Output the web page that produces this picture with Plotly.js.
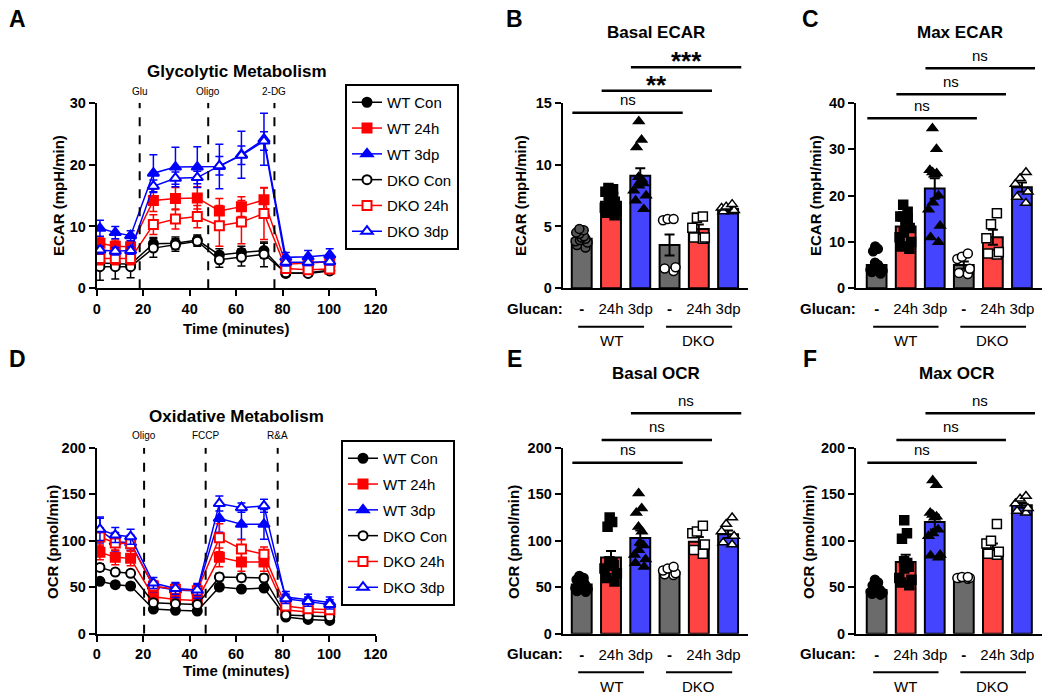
<!DOCTYPE html>
<html>
<head>
<meta charset="utf-8">
<script src="https://cdn.plot.ly/plotly-3.0.1.min.js"></script>
<style>
  body { margin: 0; background: white; }
  #fig { width: 1050px; height: 699px; }
</style>
</head>
<body>
<div id="fig"></div>
<script>
// --- data ---
const groups = ['WT Con', 'WT 24h', 'WT 3dp', 'DKO Con', 'DKO 24h', 'DKO 3dp'];
const minutes = [1.4, 8.0, 14.6, 24.4, 33.9, 43.3, 52.8, 62.3, 72.0, 81.4, 91.0, 100.3];

// panel A, ECAR (mpH/min)
const ecarWtCon = [4.1, 4.0, 3.9, 7.2, 7.3, 7.8, 5.4, 5.8, 6.1, 2.4, 2.5, 2.9];
const ecarWt24 = [7.3, 6.8, 6.7, 14.2, 14.5, 14.6, 12.5, 13.2, 14.3, 3.9, 4.1, 4.3];
const ecarWt3dp = [9.7, 9.0, 8.5, 18.6, 19.6, 19.6, 19.7, 21.6, 24.1, 5.0, 5.1, 5.4];
const ecarDkoCon = [3.5, 3.5, 3.5, 6.5, 7.0, 7.6, 4.6, 5.0, 5.5, 2.5, 2.4, 2.8];
const ecarDko24 = [4.8, 4.8, 4.8, 10.3, 11.2, 11.6, 10.1, 10.7, 12.1, 3.2, 3.0, 3.1];
const ecarDko3dp = [6.2, 6.0, 6.1, 16.5, 17.8, 17.9, 19.8, 21.5, 23.8, 4.2, 4.2, 4.3];
const ecarWtConErr = [0.8, 0.8, 0.8, 1.0, 1.0, 0.8, 1.0, 1.0, 1.2, 0.5, 0.5, 0.5];
const ecarWt24Err = [1.0, 1.0, 1.0, 1.8, 1.8, 1.8, 2.0, 1.6, 1.9, 0.5, 0.5, 0.5];
const ecarWt3dpErr = [1.3, 1.0, 0.8, 3.0, 3.2, 3.3, 3.6, 3.8, 4.2, 0.8, 1.0, 1.0];
const ecarDkoConErr = [2.2, 2.0, 1.8, 1.5, 1.0, 0.8, 1.2, 1.4, 2.0, 0.4, 0.4, 0.4];
const ecarDko24Err = [1.0, 1.0, 1.0, 1.6, 1.6, 1.8, 3.3, 3.5, 4.2, 0.4, 0.4, 0.4];
const ecarDko3dpErr = [0.6, 0.6, 0.6, 1.0, 1.0, 1.0, 1.5, 1.5, 1.5, 0.6, 0.5, 0.5];
const ecarInjTimes = [18.5, 48.0, 76.5];
const ecarInjNames = ['Glu', 'Oligo', '2-DG'];

// panel D, OCR (pmol/min)
const ocrWtCon = [56.3, 52.7, 51.3, 26.5, 25.1, 24.4, 50.2, 48.0, 49.1, 17.9, 15.4, 14.3];
const ocrWt24 = [87.5, 82.1, 81.0, 39.8, 36.9, 35.8, 82.1, 77.1, 77.1, 25.4, 23.3, 22.6];
const ocrWt3dp = [111.5, 98.9, 97.8, 51.0, 47.0, 46.0, 124.0, 117.6, 117.6, 39.5, 36.5, 33.5];
const ocrDkoCon = [71.3, 66.3, 64.9, 33.3, 32.3, 31.5, 60.9, 60.2, 59.9, 20.1, 19.0, 18.3];
const ocrDko24 = [103.9, 97.5, 96.8, 51.3, 47.7, 46.2, 103.2, 91.0, 85.3, 29.7, 26.9, 25.8];
const ocrDko3dp = [112.2, 106.1, 104.3, 54.5, 48.5, 47.0, 140.0, 135.5, 137.5, 37.5, 34.5, 31.5];
const ocrWtConErr = [3, 3, 3, 2, 2, 2, 3, 3, 3, 2, 2, 2];
const ocrWt24Err = [8, 8, 8, 5, 5, 5, 10, 10, 10, 3, 3, 3];
const ocrWt3dpErr = [14, 10, 8, 6, 8, 8, 15, 16, 16, 6, 6, 6];
const ocrDkoConErr = [4, 3, 3, 3, 3, 3, 4, 4, 4, 2, 2, 2];
const ocrDko24Err = [10, 8, 8, 6, 6, 6, 15, 10, 8, 4, 3, 3];
const ocrDko3dpErr = [12, 8, 8, 6, 6, 6, 8, 5, 7, 5, 5, 5];
const ocrInjTimes = [20.4, 46.9, 77.9];
const ocrInjNames = ['Oligo', 'FCCP', 'R&A'];

// bar panels: means, SEM, individual wells (order = groups)
const basalEcarMean = [4.0, 7.0, 9.1, 3.5, 4.8, 6.4];
const basalEcarSem = [0.15, 0.25, 0.6, 0.85, 0.35, 0.1];
const basalEcarPts = [
  [3.3, 3.5, 3.7, 3.8, 3.9, 4.0, 4.1, 4.2, 4.4, 4.5, 4.7, 4.8],
  [5.9, 6.1, 6.3, 6.5, 6.8, 7.0, 7.2, 7.4, 7.5, 7.8, 8.0, 8.1],
  [13.5, 12.0, 11.4, 9.0, 8.8, 8.6, 8.5, 8.3, 7.9, 7.5, 7.1, 6.4],
  [5.6, 5.6, 5.5, 1.7, 1.6, 1.4],
  [5.8, 5.7, 4.9, 4.1, 4.0, 4.1],
  [6.8, 6.6, 6.5, 6.3, 6.2, 6.2]
];
const maxEcarMean = [5.0, 13.3, 21.5, 5.0, 11.0, 21.8];
const maxEcarSem = [0.6, 0.9, 2.2, 0.8, 1.6, 1.0];
const maxEcarPts = [
  [9.0, 8.5, 8.0, 5.5, 5.0, 4.8, 4.5, 4.3, 4.0, 3.8, 3.5, 3.2],
  [18.0, 16.5, 15.5, 15.5, 15.0, 14.0, 13.0, 12.0, 11.0, 10.0, 9.0, 8.5],
  [34.5, 30.0, 25.5, 25.0, 24.8, 24.5, 20.0, 18.5, 17.0, 13.5, 11.0, 10.0],
  [7.5, 6.3, 6.8, 4.2, 3.3, 3.1],
  [16.2, 13.8, 10.8, 7.8, 7.3, 7.5],
  [25.0, 23.7, 22.5, 20.8, 19.7, 18.4]
];
const basalOcrMean = [53, 82, 103, 66, 99, 107];
const basalOcrSem = [2, 7, 8, 1.5, 5, 4];
const basalOcrPts = [
  [62, 60, 58, 57, 55, 54, 52, 50, 49, 48, 46, 45],
  [125, 120, 115, 78, 76, 75, 74, 73, 70, 65, 60, 56],
  [151, 135, 130, 115, 110, 98, 95, 90, 85, 80, 76, 72],
  [72, 70, 68, 65, 64, 63],
  [116, 110, 108, 96, 90, 86],
  [125, 118, 110, 105, 98, 96]
];
const maxOcrMean = [47, 77, 120, 60, 92, 138];
const maxOcrSem = [1.5, 8, 8, 0.5, 5, 2.5];
const maxOcrPts = [
  [58, 55, 52, 50, 48, 48, 47, 46, 45, 44, 43, 42],
  [122, 108, 102, 78, 76, 74, 72, 70, 60, 58, 55, 52],
  [165, 160, 130, 128, 126, 125, 112, 108, 105, 85, 84, 82],
  [61, 60, 60, 59, 60, 61],
  [118, 100, 97, 88, 85, 86],
  [148, 145, 140, 135, 132, 130]
];
const tickText = ['<b>-</b>', '24h', '3dp', '<b>-</b>', '24h', '3dp'];
const comparisons = [[0, 3], [1, 4], [2, 5]];
const basalEcarStars = ['ns', '**', '***'];
const maxEcarStars = ['ns', 'ns', 'ns'];
const basalOcrStars = ['ns', 'ns', 'ns'];
const maxOcrStars = ['ns', 'ns', 'ns'];

// --- helpers ---
const W = 1050, H = 699;
const FONT = 'Liberation Sans, Arial, sans-serif';
const px = x => x / W;
const py = y => 1 - y / H;

const lineStyle = [
  { color: 'black', symbol: 'circle', fill: 'black' },
  { color: '#ff0000', symbol: 'square', fill: '#ff0000' },
  { color: '#0000ff', symbol: 'triangle-up', fill: '#0000ff' },
  { color: 'black', symbol: 'circle', fill: 'white' },
  { color: '#ff0000', symbol: 'square', fill: 'white' },
  { color: '#0000ff', symbol: 'triangle-up', fill: 'white' }
];
const barColors = ['#6b6b6b', '#ff4444', '#4444ff', '#6b6b6b', '#ff4444', '#4444ff'];
const ptSymbols = ['circle', 'square', 'triangle-up', 'circle', 'square', 'triangle-up'];
const ptFill = ['black', 'black', 'black', 'white', 'white', 'white'];

function timeTrace(y, err, i, xa, ya, legend) {
  const st = lineStyle[i];
  return {
    type: 'scatter', mode: 'lines+markers',
    x: minutes, y: y, name: groups[i],
    xaxis: xa, yaxis: ya, legend: legend, legendgroup: legend + i,
    line: { color: st.color, width: 1.5 },
    marker: { symbol: st.symbol, size: st.symbol === 'triangle-up' ? 10 : 9, color: st.fill,
              line: { color: st.color, width: 2 } },
    error_y: { type: 'data', array: err, color: st.color, thickness: 1.5, width: 4 }
  };
}

function barTraces(means, sem, pts, xa, ya, conFill) {
  const out = [{
    type: 'bar', x: [0, 1, 2, 3, 4, 5], y: means, width: 0.68,
    xaxis: xa, yaxis: ya, showlegend: false,
    marker: { color: barColors, line: { color: 'black', width: 2 } },
    error_y: { type: 'data', array: sem, color: 'black', thickness: 2, width: 5 }
  }];
  pts.forEach((vals, i) => {
    out.push({
      type: 'box', x: vals.map(() => i), y: vals,
      xaxis: xa, yaxis: ya, showlegend: false,
      boxpoints: 'all', jitter: 0.85, pointpos: 0, width: 0.62, whiskerwidth: 0,
      fillcolor: 'rgba(0,0,0,0)', line: { color: 'rgba(0,0,0,0)', width: 0 },
      marker: { symbol: ptSymbols[i], size: 9, color: i === 0 && conFill ? conFill : ptFill[i],
                line: { color: 'black', width: 1.5 } }
    });
  });
  return out;
}

const traces = [
  timeTrace(ecarWtCon, ecarWtConErr, 0, 'x', 'y', 'legend'),
  timeTrace(ecarWt24, ecarWt24Err, 1, 'x', 'y', 'legend'),
  timeTrace(ecarWt3dp, ecarWt3dpErr, 2, 'x', 'y', 'legend'),
  timeTrace(ecarDkoCon, ecarDkoConErr, 3, 'x', 'y', 'legend'),
  timeTrace(ecarDko24, ecarDko24Err, 4, 'x', 'y', 'legend'),
  timeTrace(ecarDko3dp, ecarDko3dpErr, 5, 'x', 'y', 'legend'),
  timeTrace(ocrWtCon, ocrWtConErr, 0, 'x4', 'y4', 'legend2'),
  timeTrace(ocrWt24, ocrWt24Err, 1, 'x4', 'y4', 'legend2'),
  timeTrace(ocrWt3dp, ocrWt3dpErr, 2, 'x4', 'y4', 'legend2'),
  timeTrace(ocrDkoCon, ocrDkoConErr, 3, 'x4', 'y4', 'legend2'),
  timeTrace(ocrDko24, ocrDko24Err, 4, 'x4', 'y4', 'legend2'),
  timeTrace(ocrDko3dp, ocrDko3dpErr, 5, 'x4', 'y4', 'legend2'),
  ...barTraces(basalEcarMean, basalEcarSem, basalEcarPts, 'x2', 'y2', '#555'),
  ...barTraces(maxEcarMean, maxEcarSem, maxEcarPts, 'x3', 'y3'),
  ...barTraces(basalOcrMean, basalOcrSem, basalOcrPts, 'x5', 'y5'),
  ...barTraces(maxOcrMean, maxOcrSem, maxOcrPts, 'x6', 'y6')
];

// --- axes ---
const axisBase = {
  showline: true, linecolor: 'black', linewidth: 2,
  ticks: 'outside', ticklen: 6, tickwidth: 2, tickcolor: 'black',
  showgrid: false, zeroline: false, fixedrange: true,
  tickfont: { family: FONT, size: 14.5, weight: 700, color: 'black' }
};
const domA = [px(96.7), px(375.5)];
const domB = [px(562.7), px(748)];
const domC = [px(856), px(1041.7)];
const domTop = [py(288.3), py(102.7)];
const domBot = [py(633.7), py(447.7)];
const catAxis = (dom, lo, anchor) => Object.assign({}, axisBase, {
  domain: dom, range: [lo, 5.68], anchor: anchor, ticks: '',
  tickvals: [0, 1, 2, 3, 4, 5], ticktext: tickText, ticklabelstandoff: 6,
  tickfont: { family: FONT, size: 15, color: 'black' }
});
const valAxis = (dom, range, dtick, anchor) => Object.assign({}, axisBase, {
  domain: dom, range: range, dtick: dtick, anchor: anchor
});

// --- annotations & shapes ---
const annotations = [];
const shapes = [];
function txt(x, y, text, size, bold, extra) {
  annotations.push(Object.assign({
    xref: 'paper', yref: 'paper', x: px(x), y: py(y), text: text, showarrow: false,
    xanchor: 'center', yanchor: 'middle',
    font: { family: FONT, size: size, weight: bold ? 700 : 400, color: 'black' }
  }, extra || {}));
}

// panel letters
[['A', 17, 19], ['B', 514, 19], ['C', 810, 19], ['D', 17, 359], ['E', 514, 359], ['F', 810, 359]]
  .forEach(l => txt(l[1], l[2], l[0], 23, true));
// titles
txt(237, 72, 'Glycolytic Metabolism', 17, true);
txt(237, 417, 'Oxidative Metabolism', 17, true);
txt(656, 33, 'Basal ECAR', 17, true);
txt(960, 33, 'Max ECAR', 17, true);
txt(656, 373, 'Basal OCR', 17, true);
txt(957, 373, 'Max OCR', 17, true);
// axis titles
txt(58, 196, 'ECAR (mpH/min)', 15, true, { textangle: -90 });
txt(520, 196, 'ECAR (mpH/min)', 15, true, { textangle: -90 });
txt(815, 196, 'ECAR (mpH/min)', 15, true, { textangle: -90 });
txt(52, 542, 'OCR (pmol/min)', 15, true, { textangle: -90 });
txt(513, 542, 'OCR (pmol/min)', 15, true, { textangle: -90 });
txt(808, 542, 'OCR (pmol/min)', 15, true, { textangle: -90 });
txt(236, 328, 'Time (minutes)', 15, true);
txt(236, 670, 'Time (minutes)', 15, true);

// injection markers
function injections(times, names, xa, ya, labelY) {
  times.forEach((t, i) => {
    shapes.push({ type: 'line', xref: xa, yref: ya, x0: t, x1: t, y0: 0, y1: ya === 'y' ? 30 : 200,
                  line: { color: 'black', width: 2, dash: 'dash' } });
    annotations.push({ xref: xa, yref: 'paper', x: t, y: py(labelY), text: names[i], showarrow: false,
                       yanchor: 'middle', font: { family: FONT, size: 10, color: 'black' } });
  });
}
injections(ecarInjTimes, ecarInjNames, 'x', 'y', 91.5);
injections(ocrInjTimes, ocrInjNames, 'x4', 'y4', 435);

// group labels under bar panels
function groupLabels(xa, axisY, glucanX) {
  txt(glucanX, axisY + 20, 'Glucan:', 15, true, { xanchor: 'right' });
  [[-0.12, 2.13, 1, 'WT'], [2.88, 5.14, 4, 'DKO']].forEach(g => {
    shapes.push({ type: 'line', xref: xa, yref: 'paper', x0: g[0], x1: g[1],
                  y0: py(axisY + 38.5), y1: py(axisY + 38.5), line: { color: 'black', width: 2 } });
    annotations.push({ xref: xa, yref: 'paper', x: g[2], y: py(axisY + 52.5), text: g[3], showarrow: false,
                       yanchor: 'middle', font: { family: FONT, size: 15, color: 'black' } });
  });
}
groupLabels('x2', 288.3, 565);
groupLabels('x3', 288.3, 858);
groupLabels('x5', 633.7, 565);
groupLabels('x6', 633.7, 858);

// significance brackets
function brackets(xa, labels, levels) {
  comparisons.forEach((c, k) => {
    const x0 = c[0] - 0.32, x1 = c[1] + 0.45;
    shapes.push({ type: 'line', xref: xa, yref: 'paper', x0: x0, x1: x1,
                  y0: py(levels[k]), y1: py(levels[k]), line: { color: 'black', width: 2.5 } });
    const star = labels[k] !== 'ns';
    annotations.push({ xref: xa, yref: 'paper', x: (x0 + x1) / 2, y: py(levels[k] - (star ? 6 : 13)),
                       text: labels[k], showarrow: false, yanchor: 'middle',
                       font: { family: FONT, size: star ? 26 : 15, weight: star ? 700 : 400, color: 'black' } });
  });
}
brackets('x2', basalEcarStars, [112.7, 90.7, 67.3]);
brackets('x3', maxEcarStars, [118.3, 94.3, 68.3]);
brackets('x5', basalOcrStars, [462.7, 440, 413.3]);
brackets('x6', maxOcrStars, [462.7, 440, 413.3]);

const legendBase = {
  xanchor: 'left', yanchor: 'top', bgcolor: 'white', bordercolor: 'black', borderwidth: 2,
  font: { family: FONT, size: 15, color: 'black' }, tracegroupgap: 3.3, traceorder: 'grouped'
};

const layout = {
  width: W, height: H, autosize: false,
  margin: { l: 0, r: 0, t: 0, b: 0 },
  paper_bgcolor: 'white', plot_bgcolor: 'white',
  font: { family: FONT, color: 'black' },
  boxmode: 'overlay',
  xaxis: valAxis(domA, [0, 120], 20, 'y'),
  yaxis: valAxis(domTop, [0, 30], 10, 'x'),
  xaxis2: catAxis(domB, -0.65, 'y2'),
  yaxis2: valAxis(domTop, [0, 15], 5, 'x2'),
  xaxis3: catAxis(domC, -0.71, 'y3'),
  yaxis3: valAxis(domTop, [0, 40], 10, 'x3'),
  xaxis4: valAxis(domA, [0, 120], 20, 'y4'),
  yaxis4: valAxis(domBot, [0, 200], 50, 'x4'),
  xaxis5: catAxis(domB, -0.65, 'y5'),
  yaxis5: valAxis(domBot, [0, 200], 50, 'x5'),
  xaxis6: catAxis(domC, -0.71, 'y6'),
  yaxis6: valAxis(domBot, [0, 200], 50, 'x6'),
  legend: Object.assign({ x: px(345), y: py(84) }, legendBase),
  legend2: Object.assign({ x: px(341), y: py(440) }, legendBase),
  annotations: annotations,
  shapes: shapes
};

Plotly.newPlot('fig', traces, layout, { displayModeBar: false, staticPlot: true });
</script>
</body>
</html>
